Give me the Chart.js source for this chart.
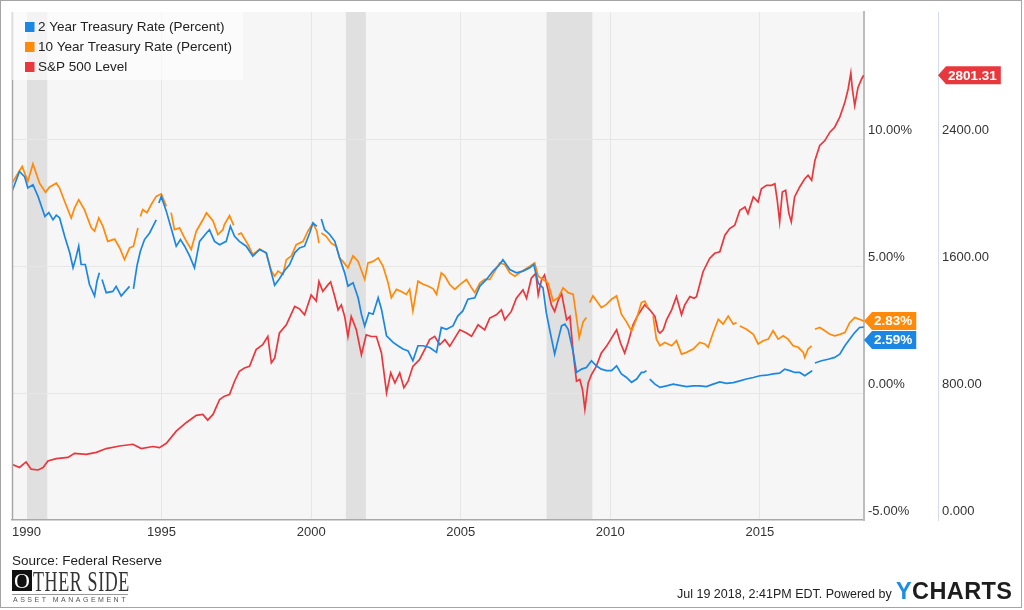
<!DOCTYPE html>
<html>
<head>
<meta charset="utf-8">
<script src="https://cdn.jsdelivr.net/npm/chart.js@4.4.1/dist/chart.umd.min.js"></script>
<style>
  body { margin: 0; background: #fff; overflow: hidden; font-family: 'Liberation Sans', Arial, sans-serif; }
  #wrap { position: relative; width: 1024px; height: 610px; }
  #chart { position: absolute; left: 0; top: 0; }
  .frame { position: absolute; left: 0; top: 0; width: 1022px; height: 608px; box-sizing: border-box; border: 1px solid #a4a4a4; pointer-events: none; }
  .source { position: absolute; left: 12px; top: 553px; font-size: 13.5px; color: #222; }
  .logo-box { position: absolute; left: 12px; top: 570px; width: 20px; height: 21px; background: #111; color: #fff;
              font-family: 'Liberation Serif', serif; font-size: 22px; line-height: 21px; text-align: center; }
  .logo-text { position: absolute; left: 33px; top: 565px; font-family: 'Liberation Serif', serif; font-size: 29px; color: #333;
               transform: scaleX(0.62); transform-origin: left top; white-space: nowrap; letter-spacing: 1px; }
  .logo-rule { position: absolute; left: 12px; top: 594px; width: 116px; height: 1px; background: #999; }
  .logo-sub { position: absolute; left: 13px; top: 596px; font-size: 7px; letter-spacing: 2.5px; color: #555; white-space: nowrap; }
  .stamp { position: absolute; left: 677px; top: 587px; font-size: 12.5px; color: #222; white-space: nowrap; }
  .brand { position: absolute; left: 896px; top: 578px; font-size: 23.5px; font-weight: bold; color: #1d1d1d; letter-spacing: 0.4px; }
  .brand span { color: #1a8fe6; }
</style>
</head>
<body>
<div id="wrap">
  <canvas id="chart" width="1024" height="610"></canvas>
  <div class="frame"></div>
  <div class="source">Source: Federal Reserve</div>
  <div class="logo-box">O</div>
  <div class="logo-text">THER SIDE</div>
  <div class="logo-rule"></div>
  <div class="logo-sub">ASSET MANAGEMENT</div>
  <div class="stamp">Jul 19 2018, 2:41PM EDT. Powered by</div>
  <div class="brand"><span>Y</span>CHARTS</div>
</div>
<script>
// tick values
const yearTicks = [1990, 1995, 2000, 2005, 2010, 2015];
const percentTicks = [-5, 0, 5, 10, 15];
const levelTicks = [0, 800, 1600, 2400, 3200];

// NBER recessions (decimal years)
const recessionStarts = [1990.5, 2001.16, 2007.87];
const recessionEnds = [1991.18, 2001.83, 2009.4];

// 2 Year Treasury Rate (%), null = gap in the source series
const twoYearDates = [
  1990.00, 1990.25, 1990.42, 1990.53, 1990.70, 1990.87, 1991.10, 1991.23, 1991.37, 1991.48,
  1991.59, 1991.76, 1991.93, 1992.04, 1992.12, 1992.23, 1992.31, 1992.45, 1992.59, 1992.76,
  1992.84, 1992.92, 1992.96, 1993.01, 1993.15, 1993.37, 1993.48, 1993.65, 1993.76, 1993.93,
  1994.00, 1994.06, 1994.18, 1994.29, 1994.43, 1994.60, 1994.82, 1994.86, 1994.91, 1994.99,
  1995.16, 1995.38, 1995.49, 1995.63, 1995.77, 1995.94, 1996.10, 1996.27, 1996.50, 1996.60,
  1996.77, 1996.94, 1997.16, 1997.30, 1997.44, 1997.60, 1997.83, 1998.05, 1998.28, 1998.50,
  1998.67, 1998.78, 1998.94, 1999.10, 1999.28, 1999.45, 1999.61, 1999.78, 1999.95, 2000.06,
  2000.19, 2000.26, 2000.34, 2000.45, 2000.62, 2000.79, 2000.95, 2001.12, 2001.23, 2001.40,
  2001.57, 2001.68, 2001.79, 2001.93, 2002.07, 2002.24, 2002.35, 2002.52, 2002.74, 2002.90,
  2003.07, 2003.24, 2003.40, 2003.57, 2003.74, 2003.96, 2004.19, 2004.35, 2004.52, 2004.74,
  2004.90, 2005.07, 2005.24, 2005.47, 2005.64, 2005.86, 2006.08, 2006.30, 2006.41, 2006.64,
  2006.86, 2007.08, 2007.31, 2007.44, 2007.59, 2007.75, 2007.86, 2007.97, 2008.14, 2008.26,
  2008.37, 2008.48, 2008.59, 2008.76, 2008.87, 2009.04, 2009.20, 2009.37, 2009.53, 2009.70,
  2009.87, 2010.04, 2010.21, 2010.37, 2010.54, 2010.71, 2010.88, 2011.04, 2011.12, 2011.21,
  2011.26, 2011.32, 2011.49, 2011.66, 2011.88, 2012.10, 2012.32, 2012.55, 2012.77, 2012.99,
  2013.21, 2013.44, 2013.66, 2013.88, 2014.11, 2014.33, 2014.55, 2014.78, 2015.00, 2015.22,
  2015.44, 2015.66, 2015.83, 2016.00, 2016.16, 2016.33, 2016.50, 2016.66, 2016.75, 2016.80,
  2016.84, 2017.06, 2017.28, 2017.50, 2017.67, 2017.84, 2018.00, 2018.17, 2018.33, 2018.47
];
const twoYearRates = [
  7.93, 8.72, 8.52, 8.07, 8.20, 7.74, 6.95, 7.10, 6.82, 7.00,
  6.90, 6.17, 5.52, 4.93, 5.25, 5.78, 5.06, 5.06, 4.27, 3.82,
  4.40, 4.73, null, 4.47, 3.95, 4.00, 4.20, 3.82, 3.97, 4.20,
  null, 4.10, 5.02, 5.58, 6.04, 6.30, 6.82, null, 7.48, 7.74,
  7.15, 6.24, 5.78, 6.04, 5.78, 5.39, 4.93, 5.97, 6.30, 6.43,
  5.97, 5.84, 5.97, 6.56, 6.17, 5.97, 5.78, 5.39, 5.65, 5.52,
  4.73, 4.24, 4.50, 4.80, 5.06, 5.52, 5.71, 5.78, 6.30, 6.69,
  6.56, null, 6.85, 6.43, 6.24, 5.97, 5.32, 4.73, 4.21, 4.34,
  3.75, 3.10, 2.64, 3.16, 3.10, 3.75, 3.30, 2.25, 1.99, 1.86,
  1.73, 1.66, 1.27, 1.86, 1.86, 1.79, 1.60, 2.58, 2.51, 2.64,
  3.03, 3.23, 3.69, 3.75, 4.21, 4.47, 4.80, 5.06, 5.25, 4.86,
  4.73, 4.80, 4.93, 5.06, 4.33, 4.14, 3.16, 2.51, 1.53, 2.12,
  2.64, 2.71, 2.51, 1.60, 0.81, 0.94, 1.00, 1.27, 1.07, 0.94,
  0.88, 0.88, 1.07, 0.75, 0.61, 0.42, 0.55, 0.81, 0.81, 0.88,
  null, 0.55, 0.35, 0.22, 0.28, 0.35, 0.30, 0.25, 0.28, 0.28,
  0.25, 0.35, 0.44, 0.38, 0.41, 0.48, 0.55, 0.61, 0.68, 0.70,
  0.75, 0.78, 0.94, 0.88, 0.81, 0.81, 0.68, 0.81, 0.88, null,
  1.18, 1.27, 1.33, 1.40, 1.53, 1.86, 2.12, 2.38, 2.58, 2.59
];

// 10 Year Treasury Rate (%)
const tenYearDates = [
  1990.00, 1990.34, 1990.53, 1990.70, 1990.92, 1991.12, 1991.25, 1991.48, 1991.59, 1991.76,
  1991.98, 1992.09, 1992.23, 1992.42, 1992.65, 1992.76, 1992.90, 1993.04, 1993.20, 1993.43,
  1993.60, 1993.76, 1993.93, 1994.06, 1994.21, 1994.25, 1994.29, 1994.37, 1994.51, 1994.65,
  1994.82, 1994.99, 1995.16, 1995.24, 1995.32, 1995.43, 1995.60, 1995.77, 1995.99, 1996.16,
  1996.38, 1996.50, 1996.72, 1996.88, 1997.05, 1997.10, 1997.27, 1997.41, 1997.48, 1997.55,
  1997.66, 1997.89, 1998.05, 1998.28, 1998.50, 1998.67, 1998.78, 1998.89, 1999.06, 1999.17,
  1999.34, 1999.50, 1999.73, 1999.89, 2000.06, 2000.19, 2000.26, 2000.30, 2000.34, 2000.50,
  2000.67, 2000.84, 2000.95, 2001.06, 2001.23, 2001.40, 2001.57, 2001.79, 2001.90, 2002.07,
  2002.24, 2002.40, 2002.57, 2002.68, 2002.85, 2003.01, 2003.18, 2003.29, 2003.40, 2003.57,
  2003.74, 2003.90, 2004.08, 2004.19, 2004.35, 2004.47, 2004.63, 2004.80, 2004.97, 2005.19,
  2005.36, 2005.47, 2005.64, 2005.80, 2005.97, 2006.14, 2006.30, 2006.47, 2006.64, 2006.81,
  2006.97, 2007.14, 2007.31, 2007.47, 2007.59, 2007.75, 2007.92, 2008.09, 2008.26, 2008.42,
  2008.59, 2008.76, 2008.87, 2008.96, 2009.09, 2009.20, 2009.25, 2009.31, 2009.42, 2009.58,
  2009.70, 2009.87, 2010.04, 2010.21, 2010.37, 2010.54, 2010.71, 2010.88, 2011.04, 2011.15,
  2011.26, 2011.30, 2011.43, 2011.54, 2011.66, 2011.82, 2012.05, 2012.21, 2012.38, 2012.55,
  2012.77, 2012.99, 2013.16, 2013.27, 2013.44, 2013.61, 2013.77, 2013.94, 2014.11, 2014.22,
  2014.27, 2014.33, 2014.55, 2014.78, 2014.94, 2015.11, 2015.28, 2015.44, 2015.61, 2015.78,
  2015.94, 2016.11, 2016.28, 2016.45, 2016.50, 2016.61, 2016.73, 2016.78, 2016.84, 2017.00,
  2017.17, 2017.34, 2017.50, 2017.67, 2017.84, 2018.00, 2018.17, 2018.33, 2018.47
];
const tenYearRates = [
  8.26, 8.92, 8.33, 9.02, 8.26, 7.90, 8.10, 8.26, 8.07, 7.54,
  6.89, 7.28, 7.61, 7.22, 6.50, 6.37, 6.89, 6.56, 5.97, 6.06,
  5.71, 5.25, 5.71, 5.78, 6.50, null, 6.95, 7.22, 7.10, 7.41,
  7.74, 7.84, 7.35, null, 7.10, 6.43, 6.50, 6.10, 5.65, 6.37,
  6.82, 7.09, 6.77, 6.24, 6.43, 6.63, 6.98, 6.60, null, 6.24,
  6.30, 5.84, 5.45, 5.67, 5.50, 4.80, 4.60, 4.80, 4.67, 5.25,
  5.40, 5.84, 5.97, 6.37, 6.69, 6.37, 5.90, null, 6.30, 6.17,
  5.90, 5.78, 5.32, 5.18, 4.93, 5.40, 5.18, 4.47, 5.12, 5.18,
  5.32, 5.00, 4.34, 3.75, 4.08, 4.00, 3.88, 4.08, 3.23, 4.40,
  4.28, 4.21, 4.10, 3.88, 4.73, 4.60, 4.27, 4.08, 4.27, 4.47,
  4.14, 3.95, 4.33, 4.47, 4.47, 4.80, 5.12, 5.06, 4.73, 4.60,
  4.73, 4.86, 4.99, 5.12, 4.60, 4.47, 4.33, 3.62, 3.75, 4.14,
  3.95, 3.88, 2.97, 2.18, 2.80, 2.97, null, 3.56, 3.82, 3.56,
  3.36, 3.49, 3.69, 3.82, 3.10, 2.80, 2.44, 2.93, 3.56, 3.62,
  3.36, null, 3.03, 2.12, 1.86, 1.99, 1.86, 2.06, 1.53, 1.60,
  1.73, 1.99, 1.93, 1.80, 2.38, 2.90, 2.71, 3.03, 2.71, 2.77,
  null, 2.64, 2.51, 2.31, 1.93, 2.06, 2.12, 2.45, 2.12, 2.25,
  2.12, 1.86, 1.80, 1.60, 1.40, 1.73, 1.86, null, 2.51, 2.58,
  2.45, 2.31, 2.25, 2.31, 2.38, 2.77, 2.97, 2.90, 2.83
];

// S&P 500 Level
const spDates = [
  1990.00, 1990.25, 1990.47, 1990.64, 1990.87, 1991.04, 1991.20, 1991.48, 1991.87, 1992.09,
  1992.48, 1992.82, 1993.15, 1993.60, 1994.04, 1994.32, 1994.71, 1994.93, 1995.16, 1995.49,
  1995.82, 1996.16, 1996.38, 1996.54, 1996.72, 1996.94, 1997.10, 1997.27, 1997.44, 1997.60,
  1997.77, 1997.94, 1998.16, 1998.38, 1998.55, 1998.67, 1998.78, 1998.94, 1999.17, 1999.45,
  1999.61, 1999.78, 2000.00, 2000.17, 2000.26, 2000.39, 2000.56, 2000.65, 2000.79, 2000.90,
  2001.01, 2001.12, 2001.23, 2001.34, 2001.51, 2001.68, 2001.84, 2002.01, 2002.18, 2002.35,
  2002.52, 2002.66, 2002.80, 2002.96, 2003.10, 2003.24, 2003.40, 2003.62, 2003.85, 2003.96,
  2004.13, 2004.30, 2004.47, 2004.63, 2004.80, 2004.97, 2005.19, 2005.36, 2005.58, 2005.80,
  2005.97, 2006.19, 2006.36, 2006.47, 2006.69, 2006.86, 2007.08, 2007.20, 2007.36, 2007.51,
  2007.59, 2007.70, 2007.80, 2007.92, 2008.03, 2008.14, 2008.26, 2008.37, 2008.54, 2008.65,
  2008.76, 2008.87, 2008.98, 2009.07, 2009.15, 2009.26, 2009.37, 2009.53, 2009.70, 2009.87,
  2010.04, 2010.21, 2010.34, 2010.48, 2010.59, 2010.76, 2010.93, 2011.15, 2011.32, 2011.49,
  2011.60, 2011.66, 2011.77, 2011.88, 2012.05, 2012.21, 2012.38, 2012.49, 2012.66, 2012.80,
  2012.88, 2013.10, 2013.32, 2013.49, 2013.66, 2013.83, 2013.99, 2014.16, 2014.33, 2014.50,
  2014.60, 2014.78, 2014.94, 2015.05, 2015.22, 2015.39, 2015.50, 2015.58, 2015.66, 2015.75,
  2015.86, 2015.97, 2016.05, 2016.16, 2016.33, 2016.50, 2016.61, 2016.73, 2016.84, 2017.00,
  2017.17, 2017.34, 2017.50, 2017.67, 2017.84, 2017.95, 2018.04, 2018.09, 2018.17, 2018.28,
  2018.40, 2018.47
];
const spLevels = [
  351, 331, 366, 320, 315, 330, 372, 387, 394, 420,
  413, 426, 450, 466, 477, 450, 463, 456, 483, 560,
  613, 659, 665, 629, 665, 759, 780, 790, 874, 937,
  958, 968, 1073, 1104, 1156, 990, 1020, 1178, 1230, 1345,
  1330, 1293, 1418, 1380, 1502, 1440, 1481, 1500, 1406, 1324,
  1355, 1282, 1156, 1282, 1198, 1041, 1167, 1156, 1156, 1052,
  801, 927, 864, 927, 833, 874, 968, 1010, 1094, 1136,
  1157, 1104, 1136, 1094, 1146, 1198, 1178, 1157, 1230, 1198,
  1272, 1293, 1324, 1261, 1314, 1397, 1449, 1397, 1523, 1554,
  1418, 1512, 1544, 1449, 1355, 1314, 1386, 1428, 1261, 1282,
  1052, 874, 885, 822, 697, 864, 916, 968, 1052, 1094,
  1146, 1198, 1115, 1052, 1115, 1230, 1293, 1355, 1324, 1282,
  1188, 1178, 1198, 1261, 1324, 1407, 1293, 1355, 1407, 1397,
  1407, 1564, 1648, 1680, 1690, 1794, 1836, 1857, 1951, 1972,
  1930, 2035, 2003, 2087, 2108, 2108, 2118, 2014, 1878, 2066,
  2077, 1930, 1878, 2035, 2098, 2150, 2171, 2140, 2265, 2359,
  2390, 2443, 2474, 2537, 2631, 2715, 2815, 2715, 2610, 2725,
  2778, 2801.31
];

const BLUE = '#1c87e3';
const ORANGE = '#ff8a0a';
const RED = '#e8383d';
const FONT = "'Liberation Sans', Arial, sans-serif";

function toPoints(dates, values) {
    return dates.map((d, i) => ({ x: d, y: values[i] }));
}

// grey plot background and recession bands
const backdropPlugin = {
    id: 'backdrop',
    beforeDraw(chart) {
        const { ctx, chartArea: a, scales: { x } } = chart;
        ctx.save();
        ctx.fillStyle = '#f6f6f6';
        ctx.fillRect(a.left, a.top, a.right - a.left, a.bottom - a.top);
        ctx.fillStyle = '#e0e0e0';
        recessionStarts.forEach((s, i) => {
            const x0 = x.getPixelForValue(s);
            const x1 = x.getPixelForValue(recessionEnds[i]);
            ctx.fillRect(x0, a.top, x1 - x0, a.bottom - a.top);
        });
        ctx.restore();
    },
    afterDatasetsDraw(chart) {
        const { ctx, chartArea: a } = chart;
        ctx.save();
        // left frame line
        ctx.strokeStyle = '#a8a8a8';
        ctx.lineWidth = 1.5;
        ctx.beginPath();
        ctx.moveTo(a.left + 0.5, a.top);
        ctx.lineTo(a.left + 0.5, a.bottom);
        ctx.stroke();

        // legend panel
        ctx.fillStyle = 'rgba(255,255,255,0.6)';
        ctx.fillRect(a.left, a.top, 231, 68);
        ctx.font = '13.5px ' + FONT;
        ctx.textBaseline = 'middle';
        chart.data.datasets.forEach((ds, i) => {
            const cy = a.top + 15 + i * 20;
            ctx.fillStyle = ds.borderColor;
            ctx.fillRect(a.left + 13, cy - 5, 9.5, 10);
            ctx.fillStyle = '#222';
            ctx.fillText(ds.label, a.left + 26, cy);
        });
        ctx.restore();
    }
};

// last-value flags on the right axes
const flagPlugin = {
    id: 'flags',
    afterDraw(chart) {
        const { ctx } = chart;
        const h = 18;
        const flags = chart.data.datasets.map((ds, i) => {
            const pts = ds.data.filter(p => p.y !== null);
            const last = pts[pts.length - 1].y;
            const scale = chart.scales[ds.yAxisID];
            return {
                color: ds.borderColor,
                text: ds.yAxisID === 'y' ? last.toFixed(2) + '%' : last.toFixed(2),
                x0: scale.left,
                cy: scale.getPixelForValue(last),
                axis: ds.yAxisID
            };
        });
        // keep flags on the same axis from overlapping
        const pct = flags.filter(f => f.axis === 'y').sort((a, b) => a.cy - b.cy);
        for (let i = 1; i < pct.length; i++) {
            if (pct[i].cy < pct[i - 1].cy + h + 1) pct[i].cy = pct[i - 1].cy + h + 1;
        }
        ctx.save();
        ctx.font = 'bold 13.5px ' + FONT;
        ctx.textBaseline = 'middle';
        flags.forEach(f => {
            const w = ctx.measureText(f.text).width;
            const x0 = f.x0;
            const x1 = x0 + 10 + w + 4;
            ctx.fillStyle = f.color;
            ctx.beginPath();
            ctx.moveTo(x0, f.cy);
            ctx.lineTo(x0 + 8, f.cy - h / 2);
            ctx.lineTo(x1, f.cy - h / 2);
            ctx.lineTo(x1, f.cy + h / 2);
            ctx.lineTo(x0 + 8, f.cy + h / 2);
            ctx.closePath();
            ctx.fill();
            ctx.fillStyle = '#fff';
            ctx.fillText(f.text, x0 + 10, f.cy + 0.5);
        });
        ctx.restore();
    }
};

const tickFont = { family: FONT, size: 13 };

new Chart(document.getElementById('chart'), {
    type: 'line',
    data: {
        datasets: [
            {
                label: '2 Year Treasury Rate (Percent)',
                data: toPoints(twoYearDates, twoYearRates),
                borderColor: BLUE,
                yAxisID: 'y'
            },
            {
                label: '10 Year Treasury Rate (Percent)',
                data: toPoints(tenYearDates, tenYearRates),
                borderColor: ORANGE,
                yAxisID: 'y'
            },
            {
                label: 'S&P 500 Level',
                data: toPoints(spDates, spLevels),
                borderColor: RED,
                yAxisID: 'y2'
            }
        ]
    },
    options: {
        responsive: false,
        animation: false,
        spanGaps: false,
        elements: {
            point: { radius: 0 },
            line: { borderWidth: 1.7, tension: 0 }
        },
        layout: { padding: { left: 12, top: 12, right: 0, bottom: 62 } },
        plugins: {
            legend: { display: false },
            tooltip: { enabled: false }
        },
        scales: {
            x: {
                type: 'linear',
                min: 1990,
                max: 2018.48,
                afterBuildTicks: s => { s.ticks = yearTicks.concat([2018.48]).map(v => ({ value: v })); },
                afterFit: s => { s.height = 28; },
                ticks: {
                    align: 'inner',
                    padding: 5,
                    color: '#333',
                    font: tickFont,
                    maxRotation: 0,
                    callback: v => (yearTicks.includes(v) ? String(v) : '')
                },
                grid: {
                    drawTicks: false,
                    color: c => (c.tick && yearTicks.includes(c.tick.value) && c.tick.value !== 1990 ? '#e6e6e6' : 'rgba(0,0,0,0)')
                },
                border: { color: '#a8a8a8', width: 1.5 }
            },
            y: {
                position: 'right',
                min: -5,
                max: 15,
                afterBuildTicks: s => { s.ticks = percentTicks.map(v => ({ value: v })); },
                afterFit: s => { s.width = 74; },
                ticks: {
                    padding: 4,
                    labelOffset: -9,
                    color: '#333',
                    font: tickFont,
                    callback: v => (v === 15 ? '' : v.toFixed(2) + '%')
                },
                grid: {
                    drawTicks: false,
                    color: c => (c.tick && (c.tick.value === 15 || c.tick.value === -5) ? 'rgba(0,0,0,0)' : '#e6e6e6')
                },
                border: { color: '#bdbdbd', width: 2 }
            },
            y2: {
                position: 'right',
                min: 0,
                max: 3200,
                afterBuildTicks: s => { s.ticks = levelTicks.map(v => ({ value: v })); },
                afterFit: s => { s.width = 86; },
                ticks: {
                    padding: 4,
                    labelOffset: -9,
                    color: '#333',
                    font: tickFont,
                    callback: v => (v === 3200 ? '' : v === 0 ? '0.000' : v.toFixed(2))
                },
                grid: { drawTicks: false, drawOnChartArea: false },
                border: { color: '#d4ddf0', width: 1 }
            }
        }
    },
    plugins: [backdropPlugin, flagPlugin]
});
</script>
</body>
</html>
